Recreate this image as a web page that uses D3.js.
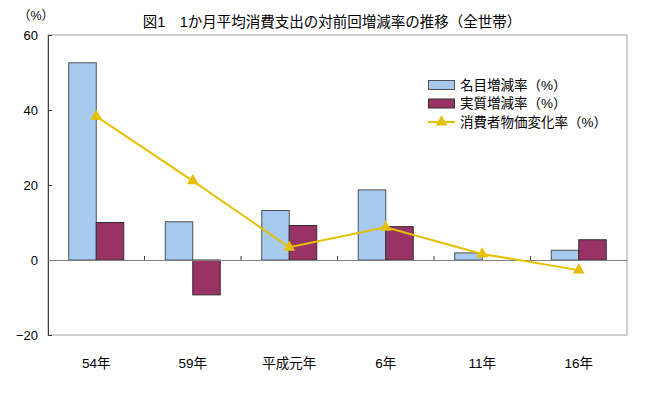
<!DOCTYPE html>
<html><head><meta charset="utf-8">
<script src="https://cdn.jsdelivr.net/npm/d3@7"></script>
<style>body{margin:0;background:#fff}svg{display:block}text{font-family:"Liberation Sans","Noto Sans CJK JP",sans-serif;fill:#000}</style>
</head><body><svg id="c" width="660" height="396"></svg>
<script>
const categories = ["54年","59年","平成元年","6年","11年","16年"];
const nominal = [52.6, 10.2, 13.2, 18.7, 1.9, 2.6];
const real = [10.0, -9.3, 9.2, 8.9, 0.0, 5.4];
const cpi = [38.3, 21.1, 3.4, 8.7, 1.6, -2.7];
const yTicks = [-20, 0, 20, 40, 60];
const seriesNames = ["名目増減率（%）","実質増減率（%）","消費者物価変化率（%）"];
const colors = {nominal:"#A6CAF0", real:"#993366", cpi:"#E6C000"};

const svg = d3.select("#c");
const L = 48, R = 627, T = 35, B = 335;
const x = d3.scaleBand().domain(categories).range([L, R]).paddingInner(0.43).paddingOuter(0.215);
const xc = d3.scaleBand().domain(categories).range([L, R]);
const y = d3.scaleLinear().domain([-20, 60]).range([B, T]);

// plot border
svg.append("rect").attr("x", L).attr("y", T).attr("width", R - L).attr("height", B - T)
  .attr("fill", "none").attr("stroke", "#a0a0a0").attr("stroke-width", 1);

// y axis
const yAxis = d3.axisLeft(y).tickValues(yTicks).tickSize(-4).tickPadding(10);
const gy = svg.append("g").attr("transform", `translate(${L},0)`).call(yAxis);
gy.select(".domain").attr("stroke", "#404040");
gy.selectAll(".tick line").attr("stroke", "#404040");
gy.selectAll("text").attr("font-size", 13).attr("fill", "#000");

// bars
const bw = x.bandwidth() / 2;
svg.append("g").selectAll("rect").data(categories).join("rect")
  .attr("x", d => x(d)).attr("width", bw)
  .attr("y", (d, i) => y(Math.max(0, nominal[i]))).attr("height", (d, i) => Math.abs(y(nominal[i]) - y(0)))
  .attr("fill", colors.nominal).attr("stroke", "#505050").attr("stroke-width", 1);
svg.append("g").selectAll("rect").data(categories).join("rect")
  .attr("x", d => x(d) + bw).attr("width", bw)
  .attr("y", (d, i) => y(Math.max(0, real[i]))).attr("height", (d, i) => Math.abs(y(real[i]) - y(0)))
  .attr("fill", colors.real).attr("stroke", "#303030").attr("stroke-width", 1);

// x axis at zero
const xAxis = d3.axisBottom(xc).tickSize(0).tickFormat(() => "");
const gx = svg.append("g").attr("transform", `translate(0,${y(0)})`).call(xAxis);
gx.select(".domain").attr("stroke", "#808080");
// boundary ticks
const bounds = categories.slice(1).map(c => xc(c));
svg.append("g").selectAll("line").data(bounds).join("line")
  .attr("x1", d => d).attr("x2", d => d).attr("y1", y(0) - 4).attr("y2", y(0))
  .attr("stroke", "#404040");
// category labels
svg.append("g").selectAll("text").data(categories).join("text")
  .attr("x", d => xc(d) + xc.bandwidth() / 2).attr("y", 368)
  .attr("text-anchor", "middle").attr("font-size", 13.5).text(d => d);

// line
const cx = d => xc(d) + xc.bandwidth() / 2;
const line = d3.line().x((d, i) => cx(categories[i])).y(d => y(d));
svg.append("path").datum(cpi).attr("d", line).attr("fill", "none")
  .attr("stroke", colors.cpi).attr("stroke-width", 2);
const tri = d3.symbol().type(d3.symbolTriangle).size(60);
svg.append("g").selectAll("path").data(cpi).join("path")
  .attr("d", tri).attr("transform", (d, i) => `translate(${cx(categories[i])},${y(d)})`)
  .attr("fill", colors.cpi);

// title
svg.append("text").attr("x", 332).attr("y", 27).attr("text-anchor", "middle").attr("font-size", 14.5)
  .attr("font-family", "Noto Sans CJK JP").text("図1　1か月平均消費支出の対前回増減率の推移（全世帯）");
svg.append("text").attr("x", 18).attr("y", 20).attr("font-size", 12.5).attr("font-family", "Noto Sans CJK JP").text("（%）");

// legend
const lg = svg.append("g");
const ly = [85, 103.5, 122];
lg.append("rect").attr("x", 428.5).attr("y", ly[0] - 4.5).attr("width", 26).attr("height", 9)
  .attr("fill", colors.nominal).attr("stroke", "#505050");
lg.append("rect").attr("x", 428.5).attr("y", ly[1] - 4.5).attr("width", 26).attr("height", 9)
  .attr("fill", colors.real).attr("stroke", "#303030");
lg.append("line").attr("x1", 428).attr("x2", 455).attr("y1", ly[2]).attr("y2", ly[2])
  .attr("stroke", colors.cpi).attr("stroke-width", 2);
lg.append("path").attr("d", tri).attr("transform", `translate(441.5,${ly[2]})`).attr("fill", colors.cpi);
lg.selectAll("text").data(seriesNames).join("text")
  .attr("x", 460).attr("y", (d, i) => ly[i]).attr("dy", "0.36em").attr("font-size", 13.5)
  .attr("font-family", "Noto Sans CJK JP").text(d => d);
</script></body></html>
